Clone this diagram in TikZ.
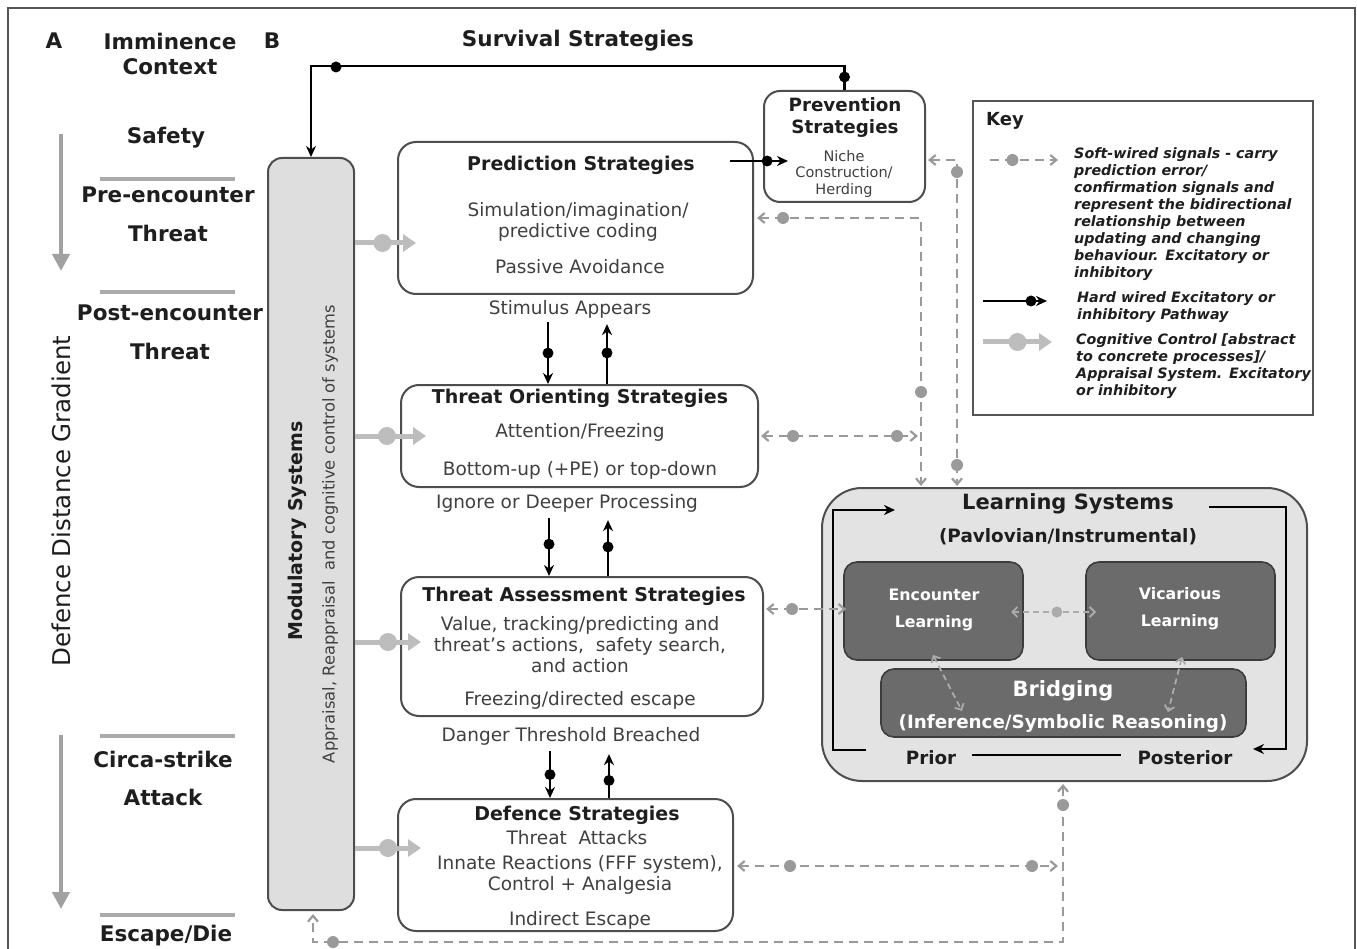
\documentclass[tikz,border=0pt]{standalone}
\usepackage{fontspec}
\setmainfont{DejaVu Sans}
\usetikzlibrary{arrows.meta,calc}
\definecolor{txt}{HTML}{1E1E1E}
\definecolor{bordc}{HTML}{4D4D4D}
\definecolor{modfill}{HTML}{DEDEDE}
\definecolor{learnfill}{HTML}{E3E3E3}
\definecolor{darkfill}{HTML}{6B6B6B}
\definecolor{darkb}{HTML}{3C3C3C}
\definecolor{softc}{HTML}{9A9A9A}
\definecolor{softin}{HTML}{ABABAB}
\definecolor{cogc}{HTML}{BDBDBD}
\definecolor{framec}{HTML}{555555}
\tikzset{
  box/.style={draw=bordc, line width=2pt, rounded corners=18pt, fill=white, inner sep=0pt},
  modbox/.style={draw=bordc, line width=2pt, rounded corners=14pt, fill=modfill, inner sep=0pt},
  learnbox/.style={draw=bordc, line width=2pt, rounded corners=40pt, fill=learnfill, inner sep=0pt},
  darkbox/.style={draw=darkb, line width=1.6pt, rounded corners=13pt, fill=darkfill, inner sep=0pt},
  keybox/.style={draw=framec, line width=1.6pt, fill=white, inner sep=0pt},
  lbl/.style={font=\fontsize{18.5}{21}\selectfont, text=txt!85, inner sep=0pt, align=center},
  hd/.style={font=\bfseries\fontsize{19}{22}\selectfont, text=txt, inner sep=0pt, align=center},
  side/.style={font=\bfseries\fontsize{21.5}{24}\selectfont, text=txt, inner sep=0pt},
  wht/.style={font=\bfseries\fontsize{15.8}{27}\selectfont, text=white, inner sep=0pt, align=center},
  keytxt/.style={font=\bfseries\itshape\fontsize{14.3}{17}\selectfont, text=txt, inner sep=0pt, align=left, anchor=north west},
  hard/.style={draw=black, line width=2.3pt, -{Stealth[length=11pt,width=10pt]}},
  hardline/.style={draw=black, line width=2.3pt},
  soft/.style={draw=softc, line width=2.2pt, dash pattern=on 9pt off 6pt,
     {Straight Barb[length=6pt,width=10pt]}-{Straight Barb[length=6pt,width=10pt]}},
  softone/.style={draw=softc, line width=2.2pt, dash pattern=on 9pt off 6pt,
     -{Straight Barb[length=6pt,width=10pt]}},
  softinner/.style={draw=softin, line width=1.8pt, dash pattern=on 6pt off 4pt,
     {Straight Barb[length=5pt,width=10pt]}-{Straight Barb[length=5pt,width=10pt]}},
  cog/.style={draw=cogc, line width=5pt, -{Triangle[length=13pt,width=17pt]}},
  sepl/.style={draw=cogc!90!black, line width=4pt},
  gradarrow/.style={draw=cogc!85!black, line width=4.5pt, -{Triangle[length=17pt,width=17pt]}},
  bdot/.style={circle, fill=black, inner sep=0pt, minimum size=11pt},
  gdot/.style={circle, fill=softc, inner sep=0pt, minimum size=12pt},
  cdot/.style={circle, fill=cogc, inner sep=0pt, minimum size=18pt},
  idot/.style={circle, fill=softin, inner sep=0pt, minimum size=11pt},
}
\begin{document}
\begin{tikzpicture}[x=1pt,y=-1pt]
\useasboundingbox (0,0) rectangle (1357,949);
% frame
\draw[framec, line width=1.6pt] (8,949) -- (8,8) -- (1355,8) -- (1355,949);

% ---------- column A ----------
\node[side] (lA) at (54,41) {A};
\node[side, align=center, font=\bfseries\fontsize{21.5}{25}\selectfont] (lImm) at (170,53.5) {Imminence\\Context};
\node[side] (lB) at (272,41) {B};
\node[side] (lSafe) at (166,138) {Safety};
\node[side] (lPre) at (168,195) {Pre-encounter};
\node[side] (lPreT) at (168,233) {Threat};
\node[side] (lPost) at (170,313) {Post-encounter};
\node[side] (lPostT) at (170,351) {Threat};
\node[side] (lCirca) at (163,759) {Circa-strike};
\node[side] (lAtt) at (163,797) {Attack};
\node[side] (lEsc) at (166,936) {Escape/Die};
\node[rotate=90, font=\fontsize{24.5}{28}\selectfont, text=txt, inner sep=0pt] (lDDG) at (61,501) {Defence Distance Gradient};
\coordinate (s1a) at (100,179); \coordinate (s1b) at (235,179);
\coordinate (s2a) at (100,292); \coordinate (s2b) at (235,292);
\coordinate (s3a) at (100,736); \coordinate (s3b) at (235,736);
\coordinate (s4a) at (100,915); \coordinate (s4b) at (235,915);
\draw[sepl] (s1a) -- (s1b);
\draw[sepl] (s2a) -- (s2b);
\draw[sepl] (s3a) -- (s3b);
\draw[sepl] (s4a) -- (s4b);
\coordinate (g1a) at (61,134); \coordinate (g1b) at (61,271);
\coordinate (g2a) at (61,735); \coordinate (g2b) at (61,909);
\draw[gradarrow] (g1a) -- (g1b);
\draw[gradarrow] (g2a) -- (g2b);

% ---------- title ----------
\node[side] (title) at (578,41) {Survival Strategies};

% ---------- boxes ----------
\node[modbox, minimum width=86pt, minimum height=752pt] (mod) at (311,534) {};
\node[rotate=90, font=\bfseries\fontsize{19}{22}\selectfont, text=txt, inner sep=0pt] (modT) at (297,531) {Modulatory Systems};
\node[rotate=90, font=\fontsize{16.3}{18}\selectfont, text=txt!85, inner sep=0pt] (modS) at (330,534) {Appraisal, Reappraisal~ and cognitive control of systems};

\node[box, minimum width=355pt, minimum height=152pt] (pred) at (575.5,218) {};
\node[hd] (predT) at (581,165) {Prediction Strategies};
\node[lbl] (predA) at (578,221.5) {Simulation/imagination/\\predictive coding};
\node[lbl] (predB) at (580,267) {Passive Avoidance};

\node[box, rounded corners=16pt, minimum width=161pt, minimum height=111pt] (prev) at (844.5,146.5) {};
\node[hd, font=\bfseries\fontsize{18.3}{22}\selectfont] (prevT) at (845,118) {Prevention\\Strategies};
\node[lbl, font=\fontsize{14.5}{16.5}\selectfont] (prevA) at (844,174) {Niche\\Construction/\\Herding};

\node (stim) [lbl] at (570,309) {Stimulus Appears};

\node[box, minimum width=357pt, minimum height=102pt] (orient) at (579.5,436) {};
\node[hd] (orientT) at (580,398) {Threat Orienting Strategies};
\node[lbl] (orientA) at (580,432) {Attention/Freezing};
\node[lbl] (orientB) at (580,470) {Bottom-up (+PE) or top-down};

\node (ignore) [lbl] at (567,503) {Ignore or Deeper Processing};

\node[box, minimum width=362pt, minimum height=139pt] (assess) at (582,646.5) {};
\node[hd] (assessT) at (584,596) {Threat Assessment Strategies};
\node[lbl] (assessA) at (580,645) {Value, tracking/predicting and\\threat’s actions,~ safety search,\\and action};
\node[lbl] (assessB) at (580,700) {Freezing/directed escape};

\node (danger) [lbl] at (571,736) {Danger Threshold Breached};

\node[box, minimum width=335pt, minimum height=132pt] (def) at (565.5,865) {};
\node[hd] (defT) at (577,815) {Defence Strategies};
\node[lbl] (defA) at (577,838) {Threat~ Attacks};
\node[lbl] (defB) at (580,874.5) {Innate Reactions (FFF system),\\Control + Analgesia};
\node[lbl] (defC) at (580,920) {Indirect Escape};

% ---------- learning systems ----------
\node[learnbox, minimum width=485pt, minimum height=293pt] (learn) at (1064.5,634.5) {};
\node[side, font=\bfseries\fontsize{21}{24}\selectfont] (learnT) at (1068,504) {Learning Systems};
\node[hd, font=\bfseries\fontsize{18.4}{22}\selectfont] (learnS) at (1068,537) {(Pavlovian/Instrumental)};
\node[darkbox, minimum width=179pt, minimum height=98pt] (enc) at (933.5,611) {};
\node[wht] (encT) at (934,609.5) {Encounter\\Learning};
\node[darkbox, minimum width=189pt, minimum height=98pt] (vic) at (1180.5,611) {};
\node[wht] (vicT) at (1180,609) {Vicarious\\Learning};
\node[darkbox, minimum width=365pt, minimum height=68pt] (bridge) at (1063.5,703) {};
\node[wht, font=\bfseries\fontsize{21}{24}\selectfont] (bridgeT) at (1063,691) {Bridging};
\node[wht, font=\bfseries\fontsize{18.3}{22}\selectfont] (bridgeS) at (1063,724) {(Inference/Symbolic Reasoning)};
\node[hd, font=\bfseries\fontsize{18.3}{22}\selectfont] (prior) at (931,758) {Prior};
\node[hd, font=\bfseries\fontsize{18.3}{22}\selectfont] (post) at (1185,758) {Posterior};
\draw[hardline, line width=2pt] (prior.east) ++(16,-3) coordinate (pl1) -- ($(post.west)+(-16,-3)$) coordinate (pl2);
\coordinate (lp1) at (866,750); \coordinate (lp2) at (833,750);
\coordinate (lp3) at (833,510); \coordinate (lp4) at (895,510);
\draw[hard, line width=2pt] (lp1) -- (lp2) -- (lp3) -- (lp4);
\coordinate (rp1) at (1209,507); \coordinate (rp2) at (1286,507);
\coordinate (rp3) at (1286,749); \coordinate (rp4) at (1253,749);
\draw[hard, line width=2pt] (rp1) -- (rp2) -- (rp3) -- (rp4);

% inner soft links
\coordinate (ev1) at (1011,612); \coordinate (ev2) at (1096,612);
\draw[softinner] (ev1) -- node[idot, pos=0.54] (evd) {} (ev2);
\coordinate (eb1) at (933,655); \coordinate (eb2) at (962,711);
\draw[softinner] (eb1) -- (eb2);
\coordinate (vb1) at (1182,657); \coordinate (vb2) at (1168,712);
\draw[softinner] (vb1) -- (vb2);

% ---------- key ----------
\node[keybox, minimum width=340pt, minimum height=314pt] (key) at (1143,258) {};
\node[hd, font=\bfseries\fontsize{18}{22}\selectfont] (keyT) at (1005,121) {Key};
\coordinate (k1a) at (990,160); \coordinate (k1b) at (1058,160);
\draw[softone] (k1a) -- node[gdot, pos=0.33] (k1d) {} (k1b);
\node[keytxt] (k1t) at (1074,147) {Soft-wired signals - carry\\prediction error/\\confirmation signals and\\represent the bidirectional\\relationship between\\updating and changing\\behaviour. Excitatory or\\inhibitory};
\coordinate (k2a) at (983,301); \coordinate (k2b) at (1047,301);
\draw[hard] (k2a) -- node[bdot, pos=0.75] (k2d) {} (k2b);
\node[keytxt] (k2t) at (1077,291) {Hard wired Excitatory or\\inhibitory Pathway};
\coordinate (k3a) at (983,342); \coordinate (k3b) at (1052,342);
\draw[cog] (k3a) -- node[cdot, pos=0.5] (k3d) {} (k3b);
\node[keytxt] (k3t) at (1076,333) {Cognitive Control [abstract\\to concrete processes]/\\Appraisal System. Excitatory\\or inhibitory};

% ---------- hard wired connectors ----------
\draw[hard] (prev.north) -- ++(0,-24) coordinate (tp1) -| (mod.north);
\node[bdot] (td1) at (336,67) {};
\node[bdot] (td2) at (844.5,77) {};
\coordinate (pp1) at (730,161); \coordinate (pp2) at (788,161);
\draw[hard] (pp1) -- node[bdot, pos=0.64] (ppd) {} (pp2);

\coordinate (x1) at (548,0); \coordinate (x2) at (607,0);
\draw[hard] (stim.south -| x1) ++(0,4) -- node[bdot, pos=0.5] (d1) {} (orient.north -| x1);
\draw[hard] (orient.north -| x2) -- node[bdot, pos=0.52] (d2) {} ($(stim.south -| x2)+(0,6)$);
\coordinate (x3) at (549,0); \coordinate (x4) at (608,0);
\draw[hard] (ignore.south -| x3) ++(0,6) -- node[bdot, pos=0.45] (d3) {} (assess.north -| x3);
\draw[hard] (assess.north -| x4) -- node[bdot, pos=0.52] (d4) {} ($(ignore.south -| x4)+(0,8)$);
\coordinate (x5) at (550,0); \coordinate (x6) at (609,0);
\draw[hard] (danger.south -| x5) ++(0,6) -- node[bdot, pos=0.5] (d5) {} (def.north -| x5);
\draw[hard] (def.north -| x6) -- node[bdot, pos=0.4] (d6) {} ($(danger.south -| x6)+(0,9)$);

% ---------- cognitive control ----------
\coordinate (c1) at (416,243); \coordinate (c2) at (426,436);
\coordinate (c3) at (421,642); \coordinate (c4) at (421,848);
\draw[cog] (mod.east |- c1) -- node[cdot, pos=0.45] (cd1) {} (c1);
\draw[cog] (mod.east |- c2) -- node[cdot, pos=0.45] (cd2) {} (c2);
\draw[cog] (mod.east |- c3) -- node[cdot, pos=0.5] (cd3) {} (c3);
\draw[cog] (mod.east |- c4) -- node[cdot, pos=0.5] (cd4) {} (c4);

% ---------- soft wired connectors ----------
\coordinate (v1) at (957,160); \coordinate (v2) at (921,218);
\draw[soft] ($(prev.east |- v1)+(2,0)$) -| ($(v1 |- learn.north)+(0,-1)$);
\node[gdot] (vd1) at (957,172) {};
\node[gdot] (vd2) at (957,465) {};
\draw[soft] ($(pred.east)+(3,0)$) -| ($(v2 |- learn.north)+(0,-1)$);
\node[gdot] (vd3) at (783,218) {};
\node[gdot] (vd4) at (921,392) {};
\coordinate (o1) at (918,436);
\draw[soft] ($(orient.east)+(2,0)$) -- (o1);
\node[gdot] (od1) at (793,436) {};
\node[gdot] (od2) at (897,436) {};
\coordinate (a1) at (0,609);
\draw[soft] ($(assess.east |- a1)+(2,0)$) -- ($(enc.west |- a1)+(3,0)$);
\node[gdot] (ad1) at (792,609) {};
\coordinate (f1) at (0,866); \coordinate (f2) at (1058,866);
\draw[soft] ($(def.east |- f1)+(3,0)$) -- (f2);
\node[gdot] (fd1) at (790,866) {};
\node[gdot] (fd2) at (1032,866) {};
\coordinate (b1) at (1063,942);
\draw[soft] ($(b1 |- learn.south)+(0,2)$) -- (b1) -| ($(mod.south)+(2,3)$);
\node[gdot] (bd1) at (333,942) {};
\node[gdot] (bd2) at (1063,805) {};
\end{tikzpicture}
\end{document}
